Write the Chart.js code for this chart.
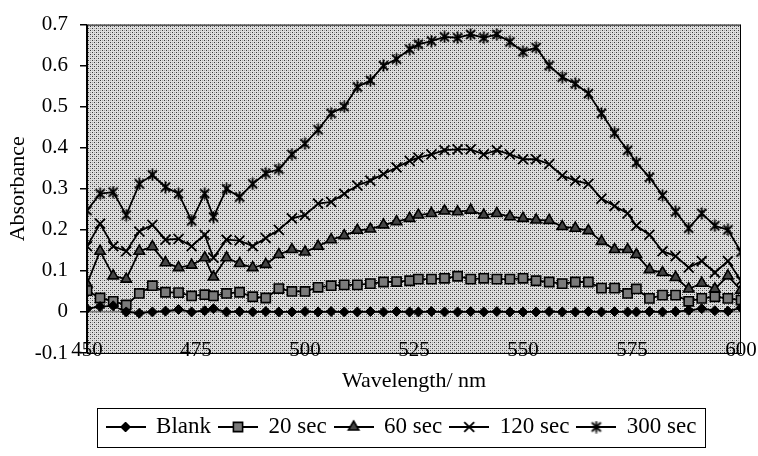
<!DOCTYPE html>
<html>
<head>
<meta charset="utf-8">
<title>Absorbance spectra</title>
<script src="https://cdn.jsdelivr.net/npm/chart.js@4.4.0/dist/chart.umd.min.js"></script>
<style>
  html, body { margin: 0; padding: 0; background: #fff; }
  #wrap { width: 758px; height: 456px; }
</style>
</head>
<body>
<div id="wrap"><canvas id="chart" width="758" height="456"></canvas></div>
<script>
// wavelengths (nm) and absorbance of each series
const wavelengths = [450, 453, 456, 459, 462, 465, 468, 471, 474, 477, 479, 482, 485, 488, 491, 494, 497, 500, 503, 506,
  509, 512, 515, 518, 521, 524, 526, 529, 532, 535, 538, 541, 544, 547, 550, 553, 556, 559, 562, 565,
  568, 571, 574, 576, 579, 582, 585, 588, 591, 594, 597, 600];

const blank = [0.008, 0.013, 0.015, 0.000, -0.003, 0.000, 0.002, 0.006, 0.000, 0.003, 0.008, 0.000, 0.001, 0.000, 0.001, 0.000, 0.000, 0.001, 0.000, 0.001,
  0.000, 0.000, 0.001, 0.000, 0.001, 0.000, 0.000, 0.001, 0.000, 0.000, 0.001, 0.000, 0.001, 0.000, 0.000, 0.000, 0.001, 0.000, 0.000, 0.001,
  0.000, 0.001, 0.000, 0.000, 0.001, 0.000, 0.001, 0.004, 0.008, 0.003, 0.002, 0.010];

const sec20 = [0.052, 0.034, 0.026, 0.017, 0.045, 0.064, 0.048, 0.047, 0.039, 0.042, 0.039, 0.045, 0.048, 0.037, 0.034, 0.057, 0.050, 0.050, 0.060, 0.064,
  0.066, 0.066, 0.069, 0.073, 0.074, 0.076, 0.080, 0.080, 0.082, 0.087, 0.080, 0.082, 0.080, 0.080, 0.082, 0.076, 0.073, 0.069, 0.073, 0.073,
  0.058, 0.058, 0.045, 0.056, 0.033, 0.041, 0.041, 0.026, 0.033, 0.037, 0.033, 0.029];

const sec60 = [0.068, 0.148, 0.088, 0.080, 0.148, 0.159, 0.120, 0.108, 0.114, 0.132, 0.085, 0.132, 0.118, 0.108, 0.116, 0.140, 0.152, 0.146, 0.160, 0.176,
  0.186, 0.199, 0.202, 0.212, 0.220, 0.228, 0.236, 0.240, 0.246, 0.244, 0.248, 0.236, 0.240, 0.232, 0.228, 0.224, 0.223, 0.208, 0.204, 0.198,
  0.172, 0.152, 0.152, 0.140, 0.103, 0.096, 0.084, 0.056, 0.070, 0.056, 0.088, 0.053];

const sec120 = [0.160, 0.215, 0.160, 0.148, 0.196, 0.212, 0.176, 0.178, 0.160, 0.188, 0.132, 0.176, 0.174, 0.160, 0.180, 0.200, 0.228, 0.236, 0.264, 0.268,
  0.288, 0.308, 0.320, 0.336, 0.352, 0.368, 0.376, 0.384, 0.394, 0.396, 0.396, 0.384, 0.394, 0.384, 0.372, 0.372, 0.360, 0.332, 0.320, 0.312,
  0.276, 0.258, 0.240, 0.210, 0.188, 0.148, 0.136, 0.108, 0.124, 0.096, 0.124, 0.076];

const sec300 = [0.247, 0.288, 0.292, 0.236, 0.312, 0.334, 0.304, 0.288, 0.222, 0.288, 0.231, 0.300, 0.280, 0.312, 0.338, 0.348, 0.384, 0.410, 0.444, 0.484,
  0.500, 0.548, 0.564, 0.600, 0.616, 0.640, 0.652, 0.660, 0.670, 0.668, 0.676, 0.668, 0.676, 0.658, 0.634, 0.644, 0.600, 0.572, 0.556, 0.532,
  0.484, 0.436, 0.394, 0.364, 0.328, 0.284, 0.244, 0.204, 0.240, 0.210, 0.200, 0.146];

const labels = ['Blank', '20 sec', '60 sec', '120 sec', '300 sec'];

const serif = "'Liberation Serif', 'Times New Roman', serif";
Chart.defaults.font.family = serif;
Chart.defaults.color = '#000';

// excel style asterisk marker (X with a vertical bar)
function asteriskMarker() {
    const c = document.createElement('canvas');
    c.width = 13; c.height = 13;
    const g = c.getContext('2d');
    g.strokeStyle = '#000';
    g.lineWidth = 1.8;
    g.beginPath();
    g.moveTo(2, 2); g.lineTo(11, 11);
    g.moveTo(11, 2); g.lineTo(2, 11);
    g.moveTo(6.5, 0.5); g.lineTo(6.5, 12.5);
    g.stroke();
    return c;
}

// dotted grey fill of the plot area
function dotPattern(ctx) {
    const c = document.createElement('canvas');
    c.width = 4; c.height = 4;
    const g = c.getContext('2d');
    g.fillStyle = '#dedede';
    g.fillRect(0, 0, 4, 4);
    g.fillStyle = '#3a3a3a';
    g.fillRect(0, 0, 1, 1);
    g.fillRect(2, 2, 1, 1);
    g.fillStyle = '#a8a8a8';
    g.fillRect(2, 0, 1, 1);
    g.fillRect(0, 2, 1, 1);
    return ctx.createPattern(c, 'repeat');
}

const markers = [
    { pointStyle: 'rectRot', radius: 5, fill: '#000', border: 1 },
    { pointStyle: 'rect', radius: 6.5, fill: '#7a7a7a', border: 1.6 },
    { pointStyle: 'triangle', radius: 6, fill: '#444', border: 1.6 },
    { pointStyle: 'crossRot', radius: 7, fill: '#000', border: 1.8 },
    { pointStyle: asteriskMarker(), radius: 6, fill: '#000', border: 1 }
];

const seriesValues = [blank, sec20, sec60, sec120, sec300];

const datasets = seriesValues.map((vals, i) => ({
    label: labels[i],
    data: vals.map((v, k) => ({ x: wavelengths[k], y: v })),
    borderColor: '#000',
    borderWidth: 1.8,
    backgroundColor: markers[i].fill,
    pointStyle: markers[i].pointStyle,
    pointRadius: markers[i].radius,
    pointBackgroundColor: markers[i].fill,
    pointBorderColor: '#000',
    pointBorderWidth: markers[i].border,
    tension: 0,
    fill: false
}));

// small line + marker pictures for the legend
function legendSample(ds) {
    const c = document.createElement('canvas');
    c.width = 40; c.height = 16;
    const g = c.getContext('2d');
    g.strokeStyle = '#000';
    g.lineWidth = 1.8;
    g.beginPath();
    g.moveTo(0, 8); g.lineTo(40, 8);
    g.stroke();
    if (typeof ds.pointStyle === 'string' && Chart.helpers && Chart.helpers.drawPoint) {
        g.fillStyle = ds.pointBackgroundColor;
        g.strokeStyle = '#000';
        g.lineWidth = ds.pointBorderWidth;
        Chart.helpers.drawPoint(g, {
            pointStyle: ds.pointStyle, radius: ds.pointRadius, rotation: 0, borderWidth: ds.pointBorderWidth
        }, 20, 8);
    } else if (typeof ds.pointStyle !== 'string') {
        g.drawImage(ds.pointStyle, 20 - ds.pointStyle.width / 2, 8 - ds.pointStyle.height / 2);
    }
    return c;
}
const samples = datasets.map(legendSample);

const LEGEND_SHIFT = 31;

const plotDecor = {
    id: 'plotDecor',
    afterUpdate(chart) {
        // legend sits a little right of the canvas centre in the original
        const lg = chart.legend;
        if (!lg) return;
        lg.left += LEGEND_SHIFT;
        lg.right += LEGEND_SHIFT;
        (lg.legendHitBoxes || []).forEach(h => { h.left += LEGEND_SHIFT; });
    },
    beforeDraw(chart) {
        const { ctx, chartArea: a } = chart;
        ctx.save();
        ctx.fillStyle = dotPattern(ctx);
        ctx.fillRect(a.left, a.top, a.right - a.left, a.bottom - a.top);
        ctx.restore();
    },
    afterDraw(chart) {
        const { ctx, chartArea: a } = chart;
        ctx.save();
        ctx.strokeStyle = '#000';
        ctx.lineWidth = 1;
        ctx.strokeRect(a.left + 0.5, a.top + 0.5, a.right - a.left - 1, a.bottom - a.top);
        // frame round the legend
        const hb = chart.legend.legendHitBoxes;
        if (hb && hb.length) {
            const l = Math.min(...hb.map(h => h.left)) - 10;
            const r = Math.max(...hb.map(h => h.left + h.width)) + 8;
            const cy = hb[0].top + hb[0].height / 2;
            ctx.strokeRect(Math.round(l) + 0.5, Math.round(cy - 19.5) + 0.5, Math.round(r - l), 39);
        }
        ctx.restore();
    }
};

new Chart(document.getElementById('chart'), {
    type: 'line',
    data: { datasets: datasets },
    options: {
        responsive: false,
        animation: false,
        devicePixelRatio: 1,
        layout: { padding: { left: 0, right: 17, top: 21, bottom: 7.5 } },
        plugins: {
            tooltip: { enabled: false },
            legend: {
                position: 'bottom',
                labels: {
                    usePointStyle: true,
                    pointStyleWidth: 38,
                    padding: 8,
                    color: '#000',
                    font: { size: 23, family: serif },
                    generateLabels: (chart) => chart.data.datasets.map((ds, i) => ({
                        text: ds.label,
                        pointStyle: samples[i],
                        datasetIndex: i,
                        hidden: false,
                        lineWidth: 0,
                        fillStyle: 'transparent',
                        strokeStyle: 'transparent',
                        fontColor: '#000'
                    }))
                }
            }
        },
        scales: {
            x: {
                type: 'linear',
                min: 450,
                max: 600,
                afterFit: (scale) => { scale.height = 54.5; },
                ticks: {
                    stepSize: 25,
                    mirror: true,
                    padding: -10,
                    maxRotation: 0,
                    font: { size: 21, family: serif },
                    color: '#000'
                },
                grid: { drawOnChartArea: false, drawTicks: false },
                border: { display: true, color: '#000', width: 1 },
                title: {
                    display: true,
                    text: 'Wavelength/ nm',
                    font: { size: 22, family: serif },
                    color: '#000',
                    padding: { top: 0, bottom: 13 }
                }
            },
            y: {
                min: -0.1,
                max: 0.7,
                afterFit: (scale) => { scale.width = 87; },
                ticks: {
                    stepSize: 0.1,
                    padding: 12,
                    font: { size: 21, family: serif },
                    color: '#000',
                    callback: (v) => String(Math.round(v * 10) / 10)
                },
                grid: {
                    drawOnChartArea: true,
                    tickLength: 7,
                    tickColor: '#000',
                    color: (c) => (c.tick && Math.abs(c.tick.value) < 1e-9 ? '#808080' : 'rgba(0,0,0,0)'),
                    lineWidth: 1.5
                },
                border: { display: true, color: '#000', width: 1.2 },
                title: {
                    display: true,
                    text: 'Absorbance',
                    font: { size: 22, family: serif },
                    color: '#000',
                    padding: { top: 5, bottom: 0 }
                }
            }
        }
    },
    plugins: [plotDecor]
});
</script>
</body>
</html>
